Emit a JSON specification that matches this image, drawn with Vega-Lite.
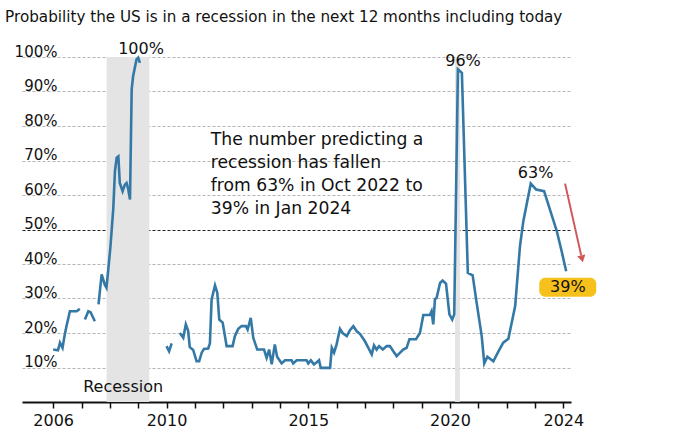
{
  "$schema": "https://vega.github.io/schema/vega-lite/v6.json",
  "width": 549,
  "height": 345,
  "autosize": {"type": "none"},
  "padding": {"left": 22, "top": 57, "right": 109, "bottom": 31},
  "background": "white",
  "title": {
    "text": "Probability the US is in a recession in the next 12 months including today",
    "anchor": "start",
    "font": "DejaVu Sans",
    "fontSize": 15.2,
    "fontWeight": "normal",
    "color": "#111111",
    "offset": 15,
    "dx": -9
  },
  "config": {
    "view": {"stroke": null},
    "font": "DejaVu Sans",
    "text": {"font": "DejaVu Sans", "color": "#111111"}
  },
  "datasets": {
    "prob": [
      {"yr": 2006.00, "v": 15.2, "seg": 1},
      {"yr": 2006.17, "v": 15.0, "seg": 1},
      {"yr": 2006.24, "v": 17.2, "seg": 1},
      {"yr": 2006.33, "v": 15.7, "seg": 1},
      {"yr": 2006.41, "v": 19.6, "seg": 1},
      {"yr": 2006.47, "v": 22.0, "seg": 1},
      {"yr": 2006.59, "v": 26.3, "seg": 1},
      {"yr": 2006.83, "v": 26.3, "seg": 1},
      {"yr": 2006.94, "v": 27.0, "seg": 1},
      {"yr": 2007.12, "v": 23.9, "seg": 2},
      {"yr": 2007.24, "v": 26.3, "seg": 2},
      {"yr": 2007.32, "v": 26.0, "seg": 2},
      {"yr": 2007.47, "v": 23.4, "seg": 2},
      {"yr": 2007.60, "v": 28.3, "seg": 3},
      {"yr": 2007.71, "v": 37.0, "seg": 3},
      {"yr": 2007.82, "v": 34.0, "seg": 3},
      {"yr": 2007.88, "v": 33.1, "seg": 3},
      {"yr": 2007.94, "v": 38.0, "seg": 3},
      {"yr": 2008.02, "v": 45.0, "seg": 3},
      {"yr": 2008.12, "v": 56.0, "seg": 3},
      {"yr": 2008.18, "v": 67.0, "seg": 3},
      {"yr": 2008.24, "v": 70.8, "seg": 3},
      {"yr": 2008.30, "v": 71.2, "seg": 3},
      {"yr": 2008.35, "v": 63.5, "seg": 3},
      {"yr": 2008.45, "v": 61.1, "seg": 3},
      {"yr": 2008.53, "v": 63.0, "seg": 3},
      {"yr": 2008.59, "v": 63.5, "seg": 3},
      {"yr": 2008.65, "v": 61.6, "seg": 3},
      {"yr": 2008.71, "v": 58.7, "seg": 3},
      {"yr": 2008.77, "v": 90.6, "seg": 3},
      {"yr": 2008.82, "v": 94.4, "seg": 3},
      {"yr": 2008.94, "v": 99.3, "seg": 3},
      {"yr": 2009.00, "v": 99.8, "seg": 3},
      {"yr": 2009.06, "v": 98.3, "seg": 3},
      {"yr": 2010.00, "v": 16.2, "seg": 4},
      {"yr": 2010.09, "v": 14.7, "seg": 4},
      {"yr": 2010.18, "v": 17.0, "seg": 4},
      {"yr": 2010.47, "v": 20.0, "seg": 5},
      {"yr": 2010.59, "v": 18.6, "seg": 5},
      {"yr": 2010.68, "v": 22.5, "seg": 5},
      {"yr": 2010.76, "v": 20.7, "seg": 5},
      {"yr": 2010.82, "v": 15.9, "seg": 5},
      {"yr": 2010.94, "v": 15.1, "seg": 5},
      {"yr": 2011.06, "v": 11.8, "seg": 5},
      {"yr": 2011.15, "v": 11.8, "seg": 5},
      {"yr": 2011.24, "v": 14.3, "seg": 5},
      {"yr": 2011.32, "v": 15.4, "seg": 5},
      {"yr": 2011.47, "v": 15.5, "seg": 5},
      {"yr": 2011.53, "v": 17.0, "seg": 5},
      {"yr": 2011.59, "v": 29.7, "seg": 5},
      {"yr": 2011.71, "v": 33.8, "seg": 5},
      {"yr": 2011.79, "v": 31.7, "seg": 5},
      {"yr": 2011.86, "v": 23.9, "seg": 5},
      {"yr": 2011.98, "v": 23.0, "seg": 5},
      {"yr": 2012.12, "v": 16.2, "seg": 5},
      {"yr": 2012.33, "v": 16.2, "seg": 5},
      {"yr": 2012.41, "v": 19.1, "seg": 5},
      {"yr": 2012.53, "v": 21.2, "seg": 5},
      {"yr": 2012.65, "v": 22.0, "seg": 5},
      {"yr": 2012.80, "v": 22.0, "seg": 5},
      {"yr": 2012.86, "v": 21.0, "seg": 5},
      {"yr": 2012.97, "v": 24.4, "seg": 5},
      {"yr": 2013.06, "v": 18.6, "seg": 5},
      {"yr": 2013.20, "v": 15.2, "seg": 5},
      {"yr": 2013.44, "v": 15.2, "seg": 5},
      {"yr": 2013.53, "v": 12.8, "seg": 5},
      {"yr": 2013.62, "v": 15.2, "seg": 5},
      {"yr": 2013.71, "v": 10.9, "seg": 5},
      {"yr": 2013.82, "v": 16.7, "seg": 5},
      {"yr": 2013.90, "v": 13.1, "seg": 5},
      {"yr": 2014.06, "v": 11.2, "seg": 5},
      {"yr": 2014.18, "v": 12.1, "seg": 5},
      {"yr": 2014.41, "v": 12.1, "seg": 5},
      {"yr": 2014.47, "v": 11.2, "seg": 5},
      {"yr": 2014.59, "v": 12.1, "seg": 5},
      {"yr": 2014.94, "v": 12.1, "seg": 5},
      {"yr": 2015.00, "v": 11.2, "seg": 5},
      {"yr": 2015.09, "v": 12.1, "seg": 5},
      {"yr": 2015.20, "v": 10.9, "seg": 5},
      {"yr": 2015.30, "v": 11.5, "seg": 5},
      {"yr": 2015.38, "v": 12.1, "seg": 5},
      {"yr": 2015.44, "v": 9.9, "seg": 5},
      {"yr": 2015.77, "v": 9.9, "seg": 5},
      {"yr": 2015.83, "v": 15.7, "seg": 5},
      {"yr": 2015.91, "v": 14.3, "seg": 5},
      {"yr": 2016.00, "v": 16.7, "seg": 5},
      {"yr": 2016.12, "v": 21.2, "seg": 5},
      {"yr": 2016.21, "v": 20.0, "seg": 5},
      {"yr": 2016.36, "v": 19.1, "seg": 5},
      {"yr": 2016.47, "v": 20.8, "seg": 5},
      {"yr": 2016.59, "v": 22.0, "seg": 5},
      {"yr": 2016.71, "v": 20.5, "seg": 5},
      {"yr": 2016.83, "v": 19.7, "seg": 5},
      {"yr": 2017.00, "v": 17.6, "seg": 5},
      {"yr": 2017.12, "v": 15.7, "seg": 5},
      {"yr": 2017.24, "v": 13.8, "seg": 5},
      {"yr": 2017.32, "v": 16.4, "seg": 5},
      {"yr": 2017.41, "v": 15.2, "seg": 5},
      {"yr": 2017.50, "v": 16.2, "seg": 5},
      {"yr": 2017.63, "v": 15.2, "seg": 5},
      {"yr": 2017.77, "v": 16.2, "seg": 5},
      {"yr": 2017.88, "v": 16.2, "seg": 5},
      {"yr": 2018.00, "v": 14.7, "seg": 5},
      {"yr": 2018.12, "v": 13.3, "seg": 5},
      {"yr": 2018.24, "v": 14.3, "seg": 5},
      {"yr": 2018.35, "v": 15.2, "seg": 5},
      {"yr": 2018.47, "v": 15.7, "seg": 5},
      {"yr": 2018.57, "v": 18.2, "seg": 5},
      {"yr": 2018.80, "v": 18.2, "seg": 5},
      {"yr": 2018.94, "v": 20.0, "seg": 5},
      {"yr": 2019.06, "v": 25.2, "seg": 5},
      {"yr": 2019.29, "v": 25.2, "seg": 5},
      {"yr": 2019.35, "v": 26.3, "seg": 5},
      {"yr": 2019.41, "v": 22.5, "seg": 5},
      {"yr": 2019.47, "v": 29.8, "seg": 5},
      {"yr": 2019.53, "v": 30.2, "seg": 5},
      {"yr": 2019.65, "v": 34.5, "seg": 5},
      {"yr": 2019.74, "v": 35.2, "seg": 5},
      {"yr": 2019.86, "v": 34.3, "seg": 5},
      {"yr": 2019.98, "v": 25.4, "seg": 5},
      {"yr": 2020.08, "v": 23.9, "seg": 5},
      {"yr": 2020.15, "v": 25.4, "seg": 5},
      {"yr": 2020.28, "v": 96.4, "seg": 5},
      {"yr": 2020.42, "v": 95.4, "seg": 5},
      {"yr": 2020.63, "v": 37.4, "seg": 5},
      {"yr": 2020.80, "v": 36.7, "seg": 5},
      {"yr": 2020.94, "v": 28.8, "seg": 5},
      {"yr": 2021.12, "v": 19.1, "seg": 5},
      {"yr": 2021.21, "v": 11.2, "seg": 5},
      {"yr": 2021.32, "v": 13.1, "seg": 5},
      {"yr": 2021.53, "v": 11.8, "seg": 5},
      {"yr": 2021.71, "v": 14.7, "seg": 5},
      {"yr": 2021.88, "v": 17.2, "seg": 5},
      {"yr": 2022.06, "v": 18.3, "seg": 5},
      {"yr": 2022.30, "v": 27.8, "seg": 5},
      {"yr": 2022.47, "v": 45.2, "seg": 5},
      {"yr": 2022.59, "v": 52.5, "seg": 5},
      {"yr": 2022.85, "v": 63.3, "seg": 5},
      {"yr": 2023.04, "v": 61.6, "seg": 5},
      {"yr": 2023.32, "v": 61.1, "seg": 5},
      {"yr": 2023.77, "v": 49.5, "seg": 5},
      {"yr": 2023.94, "v": 43.7, "seg": 5},
      {"yr": 2024.10, "v": 37.9, "seg": 5}
    ],
    "recessions": [
      {"yr": 2007.885, "yr2": 2009.39, "v": 0, "v2": 100},
      {"yr": 2020.18, "yr2": 2020.35, "v": 0, "v2": 100}
    ],
    "labels": [
      {"yr": 2009.1, "v": 101, "lab": "100%"},
      {"yr": 2020.46, "v": 97.3, "lab": "96%"},
      {"yr": 2023.02, "v": 65, "lab": "63%"},
      {"yr": 2008.47, "v": 2.8, "lab": "Recession"},
      {"yr": 2024.16, "v": 31.8, "lab": "39%"}
    ],
    "note": [
      {"yr": 2011.56, "v": 74.6, "lab": "The number predicting a\nrecession has fallen\nfrom 63% in Oct 2022 to\n39% in Jan 2024"}
    ],
    "badge": [
      {"yr": 2023.15, "yr2": 2025.16, "v": 30.5, "v2": 36.0}
    ],
    "arrow": [
      {"yr": 2024.06, "yr2": 2024.63, "v": 63.3, "v2": 42.5}
    ],
    "arrowhead": [
      {"yr": 2024.66, "v": 41.5}
    ]
  },
  "encoding": {
    "x": {
      "field": "yr",
      "type": "quantitative",
      "scale": {"domain": [2004.9, 2024.27], "nice": false, "zero": false},
      "axis": {
        "title": null,
        "values": [2006, 2007, 2008, 2009, 2010, 2011, 2012, 2013, 2014, 2015, 2016, 2017, 2018, 2019, 2020, 2021, 2022, 2023, 2024],
        "labelExpr": "(datum.value === 2006 || datum.value === 2010 || datum.value === 2015 || datum.value === 2020 || datum.value === 2024) ? format(datum.value, 'd') : ''",
        "grid": false,
        "domain": true,
        "domainColor": "#111111",
        "domainWidth": 2,
        "ticks": true,
        "tickColor": "#111111",
        "tickWidth": 1.5,
        "tickSize": 6,
        "labelPadding": 4,
        "labelFont": "DejaVu Sans",
        "labelFontSize": 16,
        "labelColor": "#111111",
        "labelFlush": false,
        "labelOverlap": false
      }
    },
    "y": {
      "field": "v",
      "type": "quantitative",
      "scale": {"domain": [0, 100], "nice": false},
      "axis": {
        "title": null,
        "values": [10, 20, 30, 40, 50, 60, 70, 80, 90, 100],
        "labelExpr": "datum.value + '%'",
        "domain": false,
        "ticks": false,
        "tickSize": 0,
        "labelAlign": "right",
        "labelBaseline": "alphabetic",
        "labelPadding": -35,
        "labelOffset": -1,
        "labelFont": "DejaVu Sans",
        "labelFontSize": 15,
        "labelColor": "#111111",
        "labelFlush": false,
        "grid": true,
        "gridDash": [3, 2],
        "gridWidth": 1,
        "gridColor": {"condition": {"test": "datum.value === 50", "value": "#222222"}, "value": "#b5b5b5"}
      }
    }
  },
  "layer": [
    {
      "data": {"name": "recessions"},
      "mark": {"type": "rect", "color": "#e4e4e4"},
      "encoding": {"x2": {"field": "yr2"}, "y2": {"field": "v2"}}
    },
    {
      "data": {"name": "prob"},
      "mark": {"type": "line", "color": "#3479a6", "strokeWidth": 2.6},
      "encoding": {"detail": {"field": "seg", "type": "nominal"}}
    },
    {
      "data": {"name": "arrow"},
      "mark": {"type": "rule", "color": "#d0585b", "strokeWidth": 2},
      "encoding": {"x2": {"field": "yr2"}, "y2": {"field": "v2"}}
    },
    {
      "data": {"name": "arrowhead"},
      "mark": {"type": "point", "shape": "triangle-down", "filled": true, "opacity": 1, "color": "#d0585b", "size": 70, "angle": -12.6}
    },
    {
      "data": {"name": "badge"},
      "mark": {"type": "rect", "color": "#f6c11b", "cornerRadius": 6},
      "encoding": {"x2": {"field": "yr2"}, "y2": {"field": "v2"}}
    },
    {
      "data": {"name": "labels"},
      "mark": {"type": "text", "align": "center", "baseline": "alphabetic", "fontSize": 16},
      "encoding": {"text": {"field": "lab"}}
    },
    {
      "data": {"name": "note"},
      "mark": {"type": "text", "align": "left", "baseline": "alphabetic", "fontSize": 17.2, "lineBreak": "\n", "lineHeight": 23},
      "encoding": {"text": {"field": "lab"}}
    }
  ]
}
